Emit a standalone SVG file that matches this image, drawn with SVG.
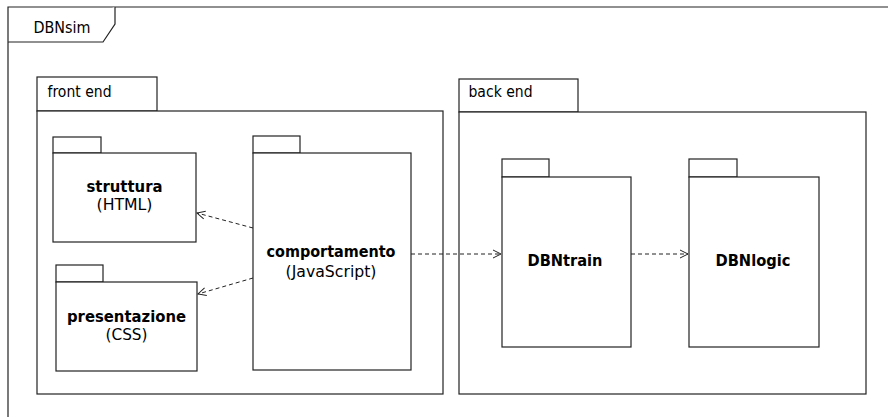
<svg xmlns="http://www.w3.org/2000/svg" width="888" height="417" viewBox="0 0 888 417">
<style>
.box{fill:#fff;stroke:#222;stroke-width:1.2}
.t{font-family:"DejaVu Sans",Tahoma,Verdana,sans-serif;font-size:16px;fill:#000}
.b{font-weight:bold}
.c{text-anchor:middle}
.dep{fill:none;stroke:#222;stroke-width:1;stroke-dasharray:4,3}
</style>
<defs>
<marker id="open" viewBox="0 0 10 10" refX="9" refY="5" markerWidth="10" markerHeight="10" markerUnits="userSpaceOnUse" orient="auto">
<path d="M1,1 L9,5 L1,9" fill="none" stroke="#222" stroke-width="1"/>
</marker>
</defs>
<rect width="888" height="417" fill="#fff"/>
<g id="frame">
<path class="box" d="M8,420 L8,7 L890,7" fill="none"/>
<path class="box" d="M8,42 L103,42 L115,24 L115,7" fill="none"/>
<text class="t" x="33.5" y="33" textLength="57" lengthAdjust="spacingAndGlyphs">DBNsim</text>
</g>
<g id="frontend">
<rect class="box" x="37" y="77" width="120" height="34"/>
<rect class="box" x="37" y="111" width="406" height="283"/>
<text class="t" x="47.5" y="97" textLength="64" lengthAdjust="spacingAndGlyphs">front end</text>
</g>
<g id="backend">
<rect class="box" x="459" y="79" width="119" height="33"/>
<rect class="box" x="459" y="112" width="407" height="282"/>
<text class="t" x="468.5" y="97" textLength="64" lengthAdjust="spacingAndGlyphs">back end</text>
</g>
<g id="struttura">
<rect class="box" x="53" y="137" width="48" height="16"/>
<rect class="box" x="53" y="153" width="143" height="89"/>
<text class="t b c" x="124.5" y="192" textLength="76" lengthAdjust="spacingAndGlyphs">struttura</text>
<text class="t c" x="124.5" y="210" textLength="56" lengthAdjust="spacingAndGlyphs">(HTML)</text>
</g>
<g id="presentazione">
<rect class="box" x="56" y="265" width="47" height="17"/>
<rect class="box" x="56" y="282" width="141" height="89"/>
<text class="t b c" x="126.5" y="322" textLength="119" lengthAdjust="spacingAndGlyphs">presentazione</text>
<text class="t c" x="126.5" y="340" textLength="42" lengthAdjust="spacingAndGlyphs">(CSS)</text>
</g>
<g id="comportamento">
<rect class="box" x="253" y="136" width="47" height="17"/>
<rect class="box" x="253" y="153" width="158" height="217"/>
<text class="t b c" x="331" y="257" textLength="129" lengthAdjust="spacingAndGlyphs">comportamento</text>
<text class="t c" x="331" y="277" textLength="91" lengthAdjust="spacingAndGlyphs">(JavaScript)</text>
</g>
<g id="DBNtrain">
<rect class="box" x="502" y="159" width="47" height="18"/>
<rect class="box" x="502" y="177" width="129" height="170"/>
<text class="t b c" x="565" y="266" textLength="75" lengthAdjust="spacingAndGlyphs">DBNtrain</text>
</g>
<g id="DBNlogic">
<rect class="box" x="689" y="159" width="48" height="18"/>
<rect class="box" x="689" y="177" width="130" height="170"/>
<text class="t b c" x="753" y="266" textLength="75" lengthAdjust="spacingAndGlyphs">DBNlogic</text>
</g>
<g id="connectors">
<line class="dep" x1="253" y1="228" x2="197" y2="213" marker-end="url(#open)"/>
<line class="dep" x1="253" y1="278" x2="198" y2="294" marker-end="url(#open)"/>
<line class="dep" x1="411" y1="254" x2="501" y2="254" marker-end="url(#open)"/>
<line class="dep" x1="631" y1="254" x2="688" y2="254" marker-end="url(#open)"/>
</g>
</svg>
